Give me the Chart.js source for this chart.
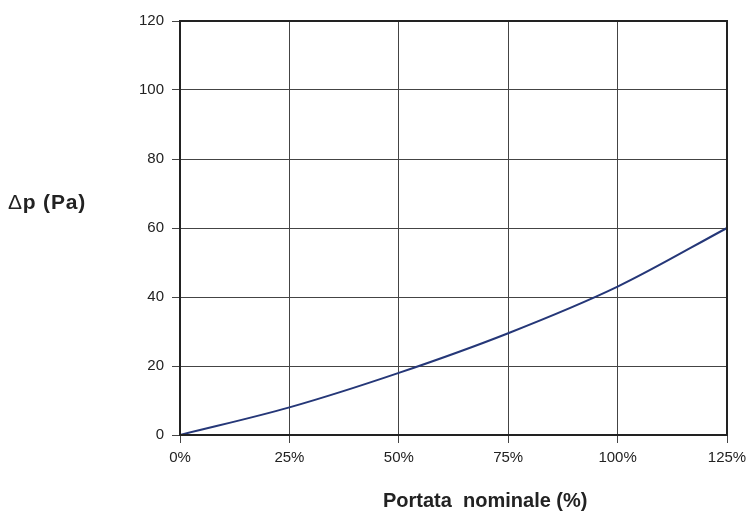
<!DOCTYPE html>
<html>
<head>
<meta charset="utf-8">
<script src="https://cdn.jsdelivr.net/npm/chart.js@4.4.4/dist/chart.umd.min.js"></script>
<style>
  html, body { margin: 0; padding: 0; background: #fff; }
  #wrap { position: relative; width: 750px; height: 512px; }
  .ttl { position: absolute; font: bold 20px "Liberation Sans", Arial, sans-serif; color: #222; white-space: pre; line-height: 20px; }
  #ytitle { left: 8px; top: 192px; font-size: 21px; letter-spacing: 0.8px; }
  #ytitle span { font-weight: normal; }
  #xtitle { left: 383px; top: 490px; }
</style>
</head>
<body>
<div id="wrap">
  <canvas id="c" width="750" height="512"></canvas>
  <div id="ytitle" class="ttl"><span>&Delta;</span>p (Pa)</div>
  <div id="xtitle" class="ttl">Portata  nominale (%)</div>
</div>
<script>
// flow as % of nominal, pressure drop in Pa
const flowPct = [0, 25, 50, 75, 100, 125];
const deltaP = [0, 8, 18, 29.5, 43, 60];
const xTicks = [0, 25, 50, 75, 100, 125];
const yTicks = [0, 20, 40, 60, 80, 100, 120];

const frame = {
  id: 'frame',
  afterDraw(chart) {
    const a = chart.chartArea, ctx = chart.ctx;
    ctx.save();
    ctx.strokeStyle = '#222';
    ctx.lineWidth = 2;
    ctx.strokeRect(a.left, a.top, a.right - a.left, a.bottom - a.top);
    ctx.restore();
  }
};

const tickFont = { family: '"Liberation Sans", Arial, sans-serif', size: 15 };

new Chart(document.getElementById('c'), {
  type: 'line',
  data: {
    datasets: [{
      data: flowPct.map((x, i) => ({ x, y: deltaP[i] })),
      borderColor: '#253778',
      borderWidth: 2,
      pointRadius: 0,
      tension: 0.3,
      cubicInterpolationMode: 'monotone',
      fill: false
    }]
  },
  options: {
    responsive: false,
    animation: false,
    layout: { padding: { top: 21, right: 23, left: 0, bottom: 0 } },
    plugins: { legend: { display: false }, tooltip: { enabled: false } },
    scales: {
      x: {
        type: 'linear', min: 0, max: 125,
        afterBuildTicks: s => { s.ticks = xTicks.map(v => ({ value: v })); },
        afterFit: s => { s.height = 77; s.paddingLeft = 0; s.paddingRight = 0; },
        ticks: { color: '#222', font: tickFont, padding: 6, callback: v => v + '%' },
        grid: { color: '#444', lineWidth: 1, tickLength: 8, tickColor: '#444' },
        border: { color: '#222', width: 2 }
      },
      y: {
        min: 0, max: 120,
        afterBuildTicks: s => { s.ticks = yTicks.map(v => ({ value: v })); },
        afterFit: s => { s.width = 180; },
        ticks: { color: '#222', font: tickFont, padding: 8 },
        grid: { color: '#444', lineWidth: 1, tickLength: 8, tickColor: '#444' },
        border: { color: '#222', width: 2 }
      }
    }
  },
  plugins: [frame]
});
</script>
</body>
</html>
